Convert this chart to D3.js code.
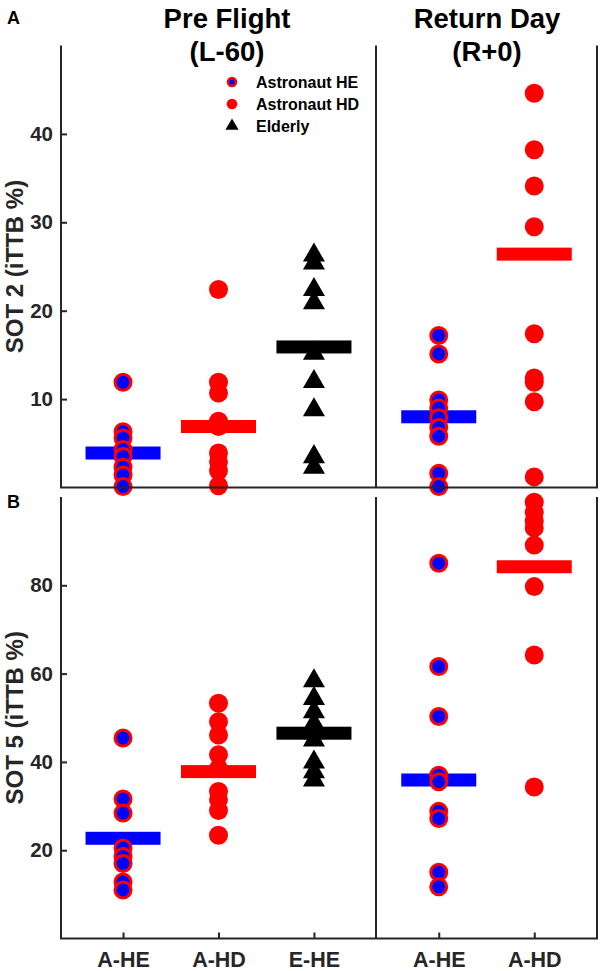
<!DOCTYPE html>
<html><head><meta charset="utf-8">
<script src="https://cdn.jsdelivr.net/npm/d3@7"></script>
<style>body{margin:0;background:#fff}svg{display:block}text{font-family:"Liberation Sans",Arial,sans-serif;font-weight:bold}</style>
</head><body><div id="chart"></div>
<script>
// ---- data ----
const preCats = ["A-HE", "A-HD", "E-HE"];
const retCats = ["A-HE", "A-HD"];
const panelTitles = [["Pre Flight", "(L-60)"], ["Return Day", "(R+0)"]];
const sot2Ticks = [10, 20, 30, 40];
const sot5Ticks = [20, 40, 60, 80];

// SOT 2 (iTTB %)
const sot2_pre_AHE = [11.9, 6.3, 5.6, 4.3, 3.5, 2.3, 1.4, 0.1];
const sot2_pre_AHD = [22.4, 11.9, 10.7, 7.5, 6.9, 3.9, 2.9, 1.9, 0.2];
const sot2_pre_EHE = [26.5, 25.6, 22.6, 21.1, 15.4, 12.2, 9.0, 3.7, 2.5];
const sot2_ret_AHE = [17.2, 15.1, 9.9, 9.0, 7.9, 6.8, 5.8, 1.6, 0.1];
const sot2_ret_AHD = [44.6, 38.2, 34.1, 29.5, 17.4, 12.4, 11.9, 9.7, 1.2];
const sot2_bar_pre = [3.9, 6.9, 15.9];
const sot2_bar_ret = [8.0, 26.4];

// SOT 5 (iTTB %)
const sot5_pre_AHE = [45.4, 31.6, 28.4, 20.5, 18.6, 17.0, 12.8, 11.0];
const sot5_pre_AHD = [53.3, 49.1, 46.1, 41.6, 38.5, 33.3, 31.4, 29.0, 23.4];
const sot5_pre_EHE = [58.8, 54.8, 51.8, 49.1, 47.0, 45.4, 40.4, 38.2, 36.3];
const sot5_ret_AHE = [85.0, 61.6, 50.3, 37.0, 35.5, 28.8, 27.2, 15.0, 11.7];
const sot5_ret_AHD = [98.8, 96.5, 94.5, 93.0, 89.1, 79.7, 64.2, 34.3];
const sot5_bar_pre = [22.7, 37.8, 46.5];
const sot5_bar_ret = [35.9, 84.2];

const legendItems = ["Astronaut HE", "Astronaut HD", "Elderly"];

// ---- layout ----
const W = 600, H = 971;
const xL0 = 61, xMid = 376, xR1 = 597;
const RED = "#ff0000", BLUE = "#0000ff", AX = "#262626";

const svg = d3.select("#chart").append("svg").attr("width", W).attr("height", H);

const xPre = d3.scalePoint().domain(preCats).range([xL0, xMid]).padding(0.65);
const xRet = d3.scalePoint().domain(retCats).range([xMid, xR1]).padding(0.657);

const panels = [
  { y: d3.scaleLinear().domain([0, 50]).range([487.5, 45.5]), top: 45.5, bottom: 487.5, ticks: sot2Ticks,
    label: "SOT 2 (iTTB %)", letter: "A", letterY: 24,
    pre: [sot2_pre_AHE, sot2_pre_AHD, sot2_pre_EHE], ret: [sot2_ret_AHE, sot2_ret_AHD],
    barPre: sot2_bar_pre, barRet: sot2_bar_ret, xlabels: false },
  { y: d3.scaleLinear().domain([0, 100]).range([938.5, 497]), top: 497, bottom: 938.5, ticks: sot5Ticks,
    label: "SOT 5 (iTTB %)", letter: "B", letterY: 508,
    pre: [sot5_pre_AHE, sot5_pre_AHD, sot5_pre_EHE], ret: [sot5_ret_AHE, sot5_ret_AHD],
    barPre: sot5_bar_pre, barRet: sot5_bar_ret, xlabels: true }
];

const tri = d3.symbol().type(d3.symbolTriangle).size(210);
const triLeg = d3.symbol().type(d3.symbolTriangle).size(75);

function drawMarkers(g, cat, vals, x, y) {
  const cx = x(cat);
  if (cat === "A-HE") {
    g.selectAll(null).data(vals).join("circle")
      .attr("cx", cx).attr("cy", d => y(d)).attr("r", 8)
      .attr("fill", BLUE).attr("stroke", RED).attr("stroke-width", 3);
  } else if (cat === "A-HD") {
    g.selectAll(null).data(vals).join("circle")
      .attr("cx", cx).attr("cy", d => y(d)).attr("r", 9.5)
      .attr("fill", RED);
  } else {
    g.selectAll(null).data(vals).join("path")
      .attr("d", tri).attr("transform", d => `translate(${cx},${y(d) + 2})`)
      .attr("fill", "#000");
  }
}
function barColor(cat) { return cat === "A-HE" ? BLUE : cat === "A-HD" ? RED : "#000"; }

panels.forEach(p => {
  const g = svg.append("g");
  // bars
  const bw = 75, bh = 13;
  g.selectAll(null).data(preCats.map((c, i) => ({ c, v: p.barPre[i], x: xPre })).concat(retCats.map((c, i) => ({ c, v: p.barRet[i], x: xRet }))))
    .join("rect")
    .attr("x", d => d.x(d.c) - bw / 2).attr("y", d => p.y(d.v) - bh / 2)
    .attr("width", bw).attr("height", bh).attr("fill", d => barColor(d.c));
  // markers
  preCats.forEach((c, i) => drawMarkers(g, c, p.pre[i], xPre, p.y));
  retCats.forEach((c, i) => drawMarkers(g, c, p.ret[i], xRet, p.y));

  // axis lines
  const ax = svg.append("g").attr("stroke", AX).attr("stroke-width", 2).attr("fill", "none");
  [xL0, xMid, xR1].forEach(xx => ax.append("line").attr("x1", xx).attr("x2", xx).attr("y1", p.top).attr("y2", p.bottom));
  ax.append("line").attr("x1", xL0 - 1).attr("x2", xR1 + 1).attr("y1", p.bottom).attr("y2", p.bottom);

  // y axis
  const yAxis = d3.axisLeft(p.y).tickValues(p.ticks).tickSizeInner(-6).tickSizeOuter(0).tickPadding(8);
  const ya = svg.append("g").attr("transform", `translate(${xL0},0)`).call(yAxis);
  ya.select(".domain").remove();
  ya.selectAll(".tick line").attr("stroke", AX).attr("stroke-width", 2);
  ya.selectAll(".tick text").attr("fill", AX).style("font-size", "20.5px").style("font-family", "Liberation Sans, Arial, sans-serif").style("font-weight", "bold");

  // x axis
  if (p.xlabels) {
    [[xPre, preCats], [xRet, retCats]].forEach(([sc]) => {
      const xa = svg.append("g").attr("transform", `translate(0,${p.bottom})`)
        .call(d3.axisBottom(sc).tickSizeInner(-6).tickSizeOuter(0).tickPadding(13));
      xa.select(".domain").remove();
      xa.selectAll(".tick line").attr("stroke", AX).attr("stroke-width", 2);
      xa.selectAll(".tick text").attr("fill", AX).style("font-size", "21.5px").style("font-family", "Liberation Sans, Arial, sans-serif").style("font-weight", "bold");
    });
  }

  // y label
  svg.append("text").attr("transform", `translate(23,${(p.top + p.bottom) / 2}) rotate(-90)`)
    .attr("text-anchor", "middle").attr("fill", AX).style("font-size", "24px").text(p.label);
  // panel letter
  svg.append("text").attr("x", 7).attr("y", p.letterY).attr("fill", "#000").style("font-size", "18px").text(p.letter);
});

// titles
const titleX = [227, 487];
panelTitles.forEach((t, i) => {
  svg.append("text").attr("x", titleX[i]).attr("y", 28).attr("text-anchor", "middle").style("font-size", "27.5px").text(t[0]);
  svg.append("text").attr("x", titleX[i]).attr("y", 61).attr("text-anchor", "middle").style("font-size", "27.5px").text(t[1]);
});

// legend
const leg = svg.append("g").attr("transform", "translate(232,82)");
legendItems.forEach((name, i) => {
  const gy = i * 22;
  if (i === 0) leg.append("circle").attr("cx", 0).attr("cy", gy).attr("r", 4).attr("fill", BLUE).attr("stroke", RED).attr("stroke-width", 2.5);
  else if (i === 1) leg.append("circle").attr("cx", 0).attr("cy", gy).attr("r", 5.3).attr("fill", RED);
  else leg.append("path").attr("d", triLeg).attr("transform", `translate(0,${gy})`).attr("fill", "#000");
  leg.append("text").attr("x", 24).attr("y", gy + 6).attr("fill", "#000").style("font-size", "16px").text(name);
});
</script></body></html>
